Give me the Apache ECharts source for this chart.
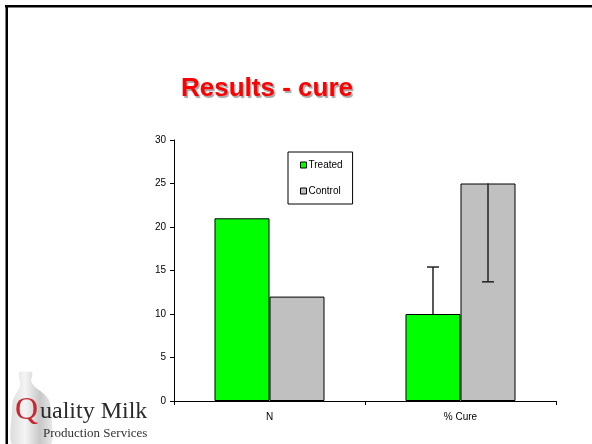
<!DOCTYPE html>
<html>
<head>
<meta charset="utf-8">
<script src="https://cdn.jsdelivr.net/npm/echarts@6/dist/echarts.min.js"></script>
<style>
  html, body { margin: 0; padding: 0; background: #fff; }
  #chart { width: 592px; height: 444px; }
</style>
</head>
<body>
<div id="chart"></div>
<script>
// Cure results: group sizes and cure percentages
const categories = ['N', '% Cure'];
const treated = [21, 10];
const control = [12, 25];
// error bar end points (null = no error bar)
const treatedErrEnd = [null, 15.4];
const controlErrEnd = [null, 13.7];
const yTicks = [0, 5, 10, 15, 20, 25, 30];

const chart = echarts.init(document.getElementById('chart'), null, { renderer: 'canvas' });

const BAR_FRACTION = 0.576; // both bars together, share of a category's width
const FONT = 'Liberation Sans, Arial, sans-serif';

function errorBarSeries(name, values, ends, side) {
  const data = [];
  values.forEach((v, i) => {
    if (ends[i] != null) data.push([i, v, ends[i]]);
  });
  return {
    name: name + ' error',
    type: 'custom',
    z: 5,
    silent: true,
    data: data,
    renderItem: function (params, api) {
      const idx = api.value(0);
      const base = api.coord([idx, api.value(1)]);
      const end = api.coord([idx, api.value(2)]);
      const catW = api.size([1, 0])[0];
      const x = base[0] + side * catW * BAR_FRACTION / 4;
      const half = 6;
      const style = { stroke: '#222', lineWidth: 1.5 };
      return {
        type: 'group',
        children: [
          { type: 'line', shape: { x1: x, y1: base[1], x2: x, y2: end[1] }, style: style },
          { type: 'line', shape: { x1: x - half, y1: end[1], x2: x + half, y2: end[1] }, style: style }
        ]
      };
    }
  };
}

const option = {
  animation: false,
  backgroundColor: '#ffffff',
  title: {
    text: 'Results - cure',
    left: 262,
    textAlign: 'center',
    top: 71,
    textStyle: {
      fontFamily: FONT,
      fontSize: 26,
      fontWeight: 'bold',
      color: '#ff0000',
      textShadowColor: 'rgba(0,0,0,0.35)',
      textShadowOffsetX: 1.5,
      textShadowOffsetY: 1.5,
      textShadowBlur: 1
    }
  },
  legend: {
    orient: 'vertical',
    left: 288,
    top: 152,
    padding: [8, 10, 8, 12],
    itemGap: 16,
    itemWidth: 6,
    itemHeight: 6,
    borderColor: '#000',
    borderWidth: 1,
    data: ['Treated', 'Control'],
    icon: 'rect',
    itemStyle: { borderColor: '#000', borderWidth: 1 },
    textStyle: {
      fontFamily: FONT,
      fontSize: 10,
      color: '#000',
      padding: [0, 0, 0, -3],
      lineHeight: 10
    }
  },
  grid: { left: 174, right: 36, top: 140, bottom: 43, containLabel: false },
  xAxis: {
    type: 'category',
    data: categories,
    axisLine: { lineStyle: { color: '#000', width: 1 } },
    axisTick: { show: true, alignWithLabel: false, length: 4, lineStyle: { color: '#000' } },
    axisLabel: {
      margin: 11,
      fontFamily: FONT,
      fontSize: 10,
      color: '#000'
    },
    splitLine: { show: false }
  },
  yAxis: {
    type: 'value',
    min: yTicks[0],
    max: yTicks[yTicks.length - 1],
    interval: 5,
    axisLine: { show: true, lineStyle: { color: '#000', width: 1 } },
    axisTick: { show: true, length: 4, lineStyle: { color: '#000' } },
    axisLabel: {
      margin: 8,
      fontFamily: FONT,
      fontSize: 10,
      color: '#000'
    },
    splitLine: { show: false }
  },
  series: [
    {
      name: 'Treated',
      type: 'bar',
      data: treated,
      barGap: '0%',
      barCategoryGap: '42.4%',
      itemStyle: { color: '#00ff00', borderColor: '#000', borderWidth: 1 }
    },
    {
      name: 'Control',
      type: 'bar',
      data: control,
      itemStyle: { color: '#c0c0c0', borderColor: '#000', borderWidth: 1 }
    },
    errorBarSeries('Treated', treated, treatedErrEnd, -1),
    errorBarSeries('Control', control, controlErrEnd, 1)
  ],
  graphic: [
    // slide frame (top and left edges)
    { type: 'rect', shape: { x: 5, y: 5, width: 587, height: 2.5 }, style: { fill: '#000' } },
    { type: 'rect', shape: { x: 5.5, y: 5, width: 2.5, height: 439 }, style: { fill: '#000' } },
    // logo: milk bottle silhouette
    {
      type: 'polygon',
      shape: {
        points: [[19, 372], [32, 372], [32, 377], [31, 381], [35, 387], [43, 393],
                 [49, 400], [51, 410], [51, 444], [12, 444], [12, 410], [13, 400],
                 [17, 392], [20, 386], [20, 381], [19, 377]],
        smooth: 0.2
      },
      style: {
        fill: {
          type: 'linear', x: 0, y: 0, x2: 1, y2: 0,
          colorStops: [
            { offset: 0, color: '#dcdcdc' },
            { offset: 0.35, color: '#f4f4f4' },
            { offset: 0.7, color: '#c8c8c8' },
            { offset: 1, color: '#e8e8e8' }
          ]
        }
      }
    },
    {
      type: 'text',
      left: 15, top: 395,
      style: { text: 'Q', fill: '#c42a32', font: '32px "Liberation Serif", "DejaVu Serif", serif' }
    },
    {
      type: 'text',
      left: 40, top: 400,
      style: { text: 'uality Milk', fill: '#2a2a2a', font: '24px "Liberation Serif", "DejaVu Serif", serif' }
    },
    {
      type: 'text',
      left: 43, top: 427,
      style: { text: 'Production Services', fill: '#333', font: '13px "Liberation Serif", "DejaVu Serif", serif' }
    }
  ]
};

chart.setOption(option);
</script>
</body>
</html>
